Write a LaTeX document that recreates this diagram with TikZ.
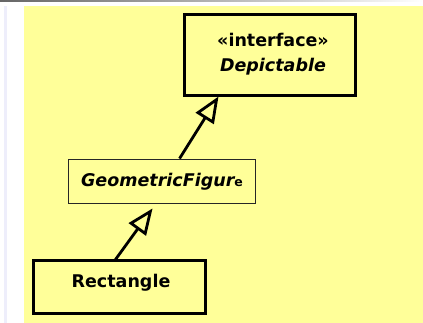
\documentclass[tikz,border=0pt]{standalone}
\usepackage{fontspec}
\setmainfont{DejaVu Sans}
\usetikzlibrary{arrows.meta,calc}
\definecolor{bgyellow}{HTML}{FFFF99}
\definecolor{lav}{HTML}{EEEEFB}
\tikzset{
  thickbox/.style={draw=black,line width=3pt,fill=bgyellow,inner sep=0pt},
  thinbox/.style={draw=black!85,line width=0.9pt,fill=bgyellow,inner sep=0pt},
  lbl/.style={inner sep=0pt,font=\bfseries\fontsize{17.5}{20}\selectfont},
  inh/.style={line width=2.8pt,-{Triangle[open,length=26pt,width=21pt,line join=miter]}},
}
\begin{document}
\begin{tikzpicture}[x=1pt,y=1pt]
\useasboundingbox (0,0) rectangle (423,323);
% background
\fill[white] (0,0) rectangle (423,323);
\shade[left color=black!60,right color=white] (0,321) rectangle (423,323);
\fill[lav] (4,0) rectangle (7,317);
\fill[bgyellow] (24,0) rectangle (423,317);
% boxes
\node[thickbox,minimum width=171pt,minimum height=81pt] (dep) at (269.5,267.5) {};
\node[thinbox,minimum width=187pt,minimum height=44pt] (gf) at (161.5,142) {};
\node[thickbox,minimum width=172pt,minimum height=53pt] (rect) at (119,35.5) {};
% labels
\node[lbl] (depst) at (273,283) {«interface»};
\node[lbl,font=\bfseries\itshape\fontsize{17.5}{20}\selectfont] (depname) at (273,256) {Depictable};
\node[lbl,font=\bfseries\itshape\fontsize{17.5}{20}\selectfont] (gfname) at (162,141) {GeometricFigur\upshape\fontsize{12.5}{14}\selectfont e};
\node[lbl] (rectname) at (121,40) {Rectangle};
% connectors
\draw[inh] ([xshift=112pt]gf.north west) -- ([xshift=36pt,yshift=1pt]dep.south west);
\draw[inh] ([xshift=84pt]rect.north west) -- ([xshift=85pt,yshift=-5pt]gf.south west);
\end{tikzpicture}
\end{document}
